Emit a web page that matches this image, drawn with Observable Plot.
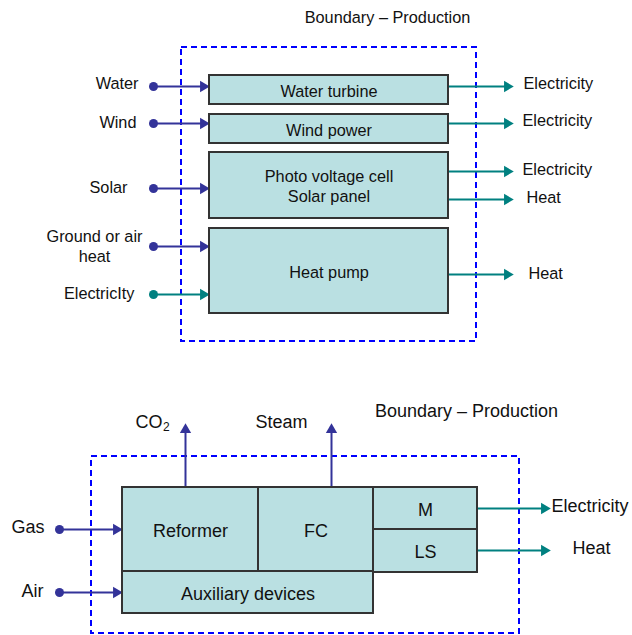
<!DOCTYPE html>
<html><head><meta charset="utf-8">
<script src="https://cdn.jsdelivr.net/npm/d3@7"></script>
<script src="https://cdn.jsdelivr.net/npm/@observablehq/plot@0.6"></script>
<style>
html,body{margin:0;padding:0;background:#fff;}
#chart svg{display:block;}
</style>
</head><body><div id="chart"></div>
<script>
// ---- Diagram data (diagram units: x 0..632, y 0..635, y downward) ----
const boundaries = [
  {panel: "top", x1: 181, x2: 476, y1: 47, y2: 341},
  {panel: "bottom", x1: 91, x2: 519, y1: 456, y2: 633}
];
const boundaryTitles = [
  {panel: "top", label: "Boundary – Production", x: 387, y: 17},
  {panel: "bottom", label: "Boundary – Production", x: 466, y: 411}
];
const boxes = [
  {panel: "top", label: "Water turbine", x1: 209, x2: 448, y1: 75, y2: 104},
  {panel: "top", label: "Wind power", x1: 209, x2: 448, y1: 114, y2: 143},
  {panel: "top", label: "Photo voltage cell\nSolar panel", x1: 209, x2: 448, y1: 152, y2: 218},
  {panel: "top", label: "Heat pump", x1: 209, x2: 448, y1: 228, y2: 313},
  {panel: "bottom", label: "Reformer", x1: 122, x2: 258, y1: 487, y2: 571},
  {panel: "bottom", label: "FC", x1: 258, x2: 373, y1: 487, y2: 571},
  {panel: "bottom", label: "M", x1: 373, x2: 477, y1: 487, y2: 529},
  {panel: "bottom", label: "LS", x1: 373, x2: 477, y1: 529, y2: 572},
  {panel: "bottom", label: "Auxiliary devices", x1: 122, x2: 373, y1: 571, y2: 613}
];
// input flows: start dot -> arrow into box
const inflows = [
  {panel: "top", label: "Water", kind: "matter", x1: 153, x2: 209, y: 86, lx: 138, ly: 83},
  {panel: "top", label: "Wind", kind: "matter", x1: 153, x2: 209, y: 123, lx: 136, ly: 122},
  {panel: "top", label: "Solar", kind: "matter", x1: 153, x2: 209, y: 188, lx: 127, ly: 187},
  {panel: "top", label: "Ground or air\nheat", kind: "matter", x1: 153, x2: 209, y: 246, lx: 94, ly: 245.5, center: true},
  {panel: "top", label: "ElectricIty", kind: "energy", x1: 153, x2: 209, y: 294, lx: 134, ly: 293},
  {panel: "bottom", label: "Gas", kind: "matter", x1: 59, x2: 122, y: 529, lx: 44, ly: 527},
  {panel: "bottom", label: "Air", kind: "matter", x1: 59, x2: 122, y: 592, lx: 43, ly: 591}
];
// output flows: arrow from box outward to the right
const outflows = [
  {panel: "top", label: "Electricity", x1: 448, x2: 513, y: 86, lx: 523, ly: 83},
  {panel: "top", label: "Electricity", x1: 448, x2: 513, y: 123, lx: 522, ly: 120},
  {panel: "top", label: "Electricity", x1: 448, x2: 513, y: 171, lx: 522, ly: 169},
  {panel: "top", label: "Heat", x1: 448, x2: 513, y: 199, lx: 526, ly: 197},
  {panel: "top", label: "Heat", x1: 448, x2: 513, y: 274, lx: 528, ly: 273},
  {panel: "bottom", label: "Electricity", x1: 477, x2: 550, y: 508, lx: 551, ly: 506},
  {panel: "bottom", label: "Heat", x1: 477, x2: 550, y: 550, lx: 572, ly: 548}
];
// emissions: arrows upward out of the boundary
const upflows = [
  {label: "CO", sub: "2", x: 185, y1: 487, y2: 423, lx: 135, ly: 422},
  {label: "Steam", sub: "", x: 331, y1: 487, y2: 423, lx: 255, ly: 422}
];

// ---- styles ----
const FONT = "'Liberation Sans', Arial, Helvetica, sans-serif";
const BLUE = "#333399", TEAL = "#008080", FILL = "#bae0e2", EDGE = "#333333", DASH = "#0000ff";
const fs = p => p === "top" ? 16.3 : 18;
const HEAD = 6.2; // triangle centroid offset from tip

const flowColor = d => d.kind === "energy" ? TEAL : BLUE;

const marks = [
  // boundaries
  Plot.rect(boundaries, {x1: "x1", x2: "x2", y1: "y1", y2: "y2", fill: "none", stroke: DASH, strokeWidth: 2, strokeDasharray: "6,4"}),
  Plot.text(boundaryTitles, {x: "x", y: "y", text: "label", fontSize: d => fs(d.panel), fill: "#111", fontFamily: FONT}),
  // input lines
  Plot.link(inflows, {x1: "x1", x2: d => d.x2 - 4, y1: "y", y2: "y", stroke: flowColor, strokeWidth: 2}),
  Plot.dot(inflows, {x: "x1", y: "y", r: 4.5, fill: flowColor, stroke: null}),
  Plot.dot(inflows, {x: d => d.x2 - HEAD, y: "y", r: 4.2, symbol: "triangle", rotate: 90, fill: flowColor, stroke: null}),
  Plot.text(inflows.filter(d => !d.center), {x: "lx", y: "ly", text: "label", textAnchor: "end", fontSize: d => fs(d.panel), fill: "#111", fontFamily: FONT}),
  Plot.text(inflows.filter(d => d.center), {x: "lx", y: "ly", text: "label", textAnchor: "middle", lineHeight: 1.2, fontSize: d => fs(d.panel), fill: "#111", fontFamily: FONT}),
  // output lines
  Plot.link(outflows, {x1: "x1", x2: d => d.x2 - 4, y1: "y", y2: "y", stroke: TEAL, strokeWidth: 2}),
  Plot.dot(outflows, {x: d => d.x2 - HEAD, y: "y", r: 4.2, symbol: "triangle", rotate: 90, fill: TEAL, stroke: null}),
  Plot.text(outflows, {x: "lx", y: "ly", text: "label", textAnchor: "start", fontSize: d => fs(d.panel), fill: "#111", fontFamily: FONT}),
  // up lines
  Plot.link(upflows, {x1: "x", x2: "x", y1: "y1", y2: d => d.y2 + 4, stroke: BLUE, strokeWidth: 2}),
  Plot.dot(upflows, {x: "x", y: d => d.y2 + HEAD, r: 4.2, symbol: "triangle", fill: BLUE, stroke: null}),
  Plot.text(upflows, {x: "lx", y: "ly", text: "label", textAnchor: "start", fontSize: 18, fill: "#111", fontFamily: FONT}),
  Plot.text(upflows.filter(d => d.sub), {x: "lx", y: "ly", dx: 27.5, dy: 5, text: "sub", textAnchor: "start", fontSize: 12, fill: "#111", fontFamily: FONT}),
  // boxes
  Plot.rect(boxes, {x1: "x1", x2: "x2", y1: "y1", y2: "y2", fill: FILL, stroke: EDGE, strokeWidth: 2}),
  Plot.text(boxes, {x: d => (d.x1 + d.x2) / 2, y: d => (d.y1 + d.y2) / 2, text: "label", lineHeight: 1.25, fontSize: d => fs(d.panel), fill: "#111", fontFamily: FONT})
];

const chart = Plot.plot({
  width: 632, height: 635,
  margin: 0,
  x: {domain: [0, 632], range: [0, 632], axis: null},
  y: {domain: [0, 635], range: [0, 635], axis: null},
  style: {background: "#fff", fontFamily: FONT},
  marks
});
document.getElementById("chart").appendChild(chart);
</script>
</body></html>
